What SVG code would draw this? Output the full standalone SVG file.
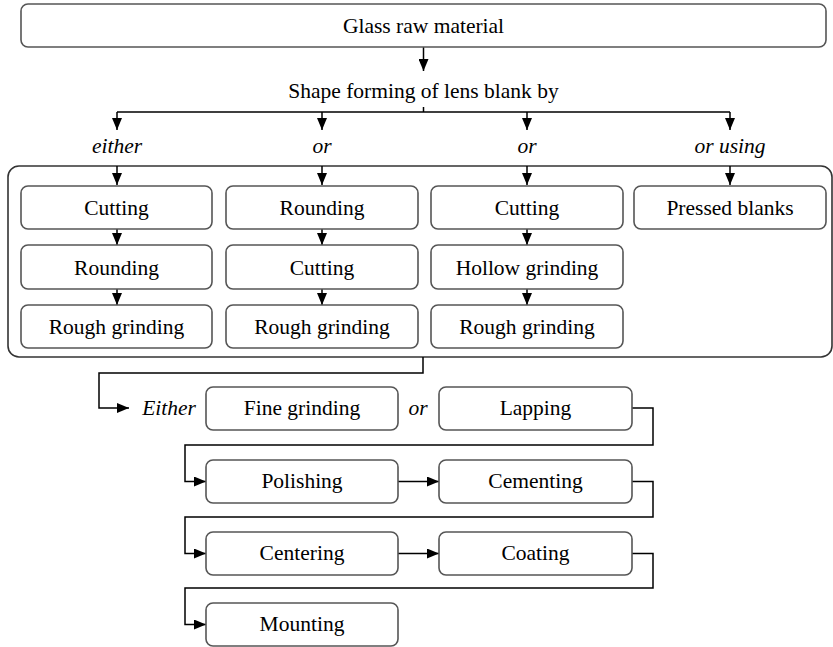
<svg xmlns="http://www.w3.org/2000/svg" width="833" height="647" viewBox="0 0 833 647">
<defs>
<marker id="ah" markerUnits="userSpaceOnUse" markerWidth="12" markerHeight="10" refX="12" refY="5" orient="auto" viewBox="0 0 12 10">
<path d="M0,0 L12,5 L0,10 z" fill="#000"/>
</marker>
<style>
.box{fill:#fff;stroke:#555;stroke-width:1.6}
.big{fill:none;stroke:#333;stroke-width:1.6}
.t{font-family:"Liberation Serif","DejaVu Serif",serif;font-size:21.5px;fill:#000;text-anchor:middle}
.i{font-style:italic}
.c{fill:none;stroke:#000;stroke-width:1.5}
.a{marker-end:url(#ah)}
</style>
</defs>
<rect class="big" x="8" y="166" width="824" height="191" rx="11"/>
<g id="connectors">
<path class="c a" d="M423.5,47 V71"/>
<path class="c" d="M423.5,107 V112 M117,112 H730"/>
<path class="c a" d="M117,112 V130"/>
<path class="c a" d="M322,112 V130"/>
<path class="c a" d="M527,112 V130"/>
<path class="c a" d="M730,112 V130"/>
<path class="c a" d="M117,166 V185"/>
<path class="c a" d="M322,166 V185"/>
<path class="c a" d="M527,166 V185"/>
<path class="c a" d="M730,166 V185"/>
<path class="c a" d="M117,229 V245"/>
<path class="c a" d="M322,229 V245"/>
<path class="c a" d="M527,229 V245"/>
<path class="c a" d="M117,289 V305"/>
<path class="c a" d="M322,289 V305"/>
<path class="c a" d="M527,289 V305"/>
<path class="c a" d="M423,357 V373 H99 V408 H129"/>
<path class="c a" d="M632,408 H653 V445 H185 V481.5 H206"/>
<path class="c a" d="M398,481.5 H439"/>
<path class="c a" d="M632,481.5 H653 V517 H185 V553.5 H206"/>
<path class="c a" d="M398,553.5 H439"/>
<path class="c a" d="M632,553.5 H653 V588 H185 V624.5 H206"/>
</g>
<g id="glass"><rect class="box" x="21" y="4" width="805" height="43" rx="7"/><text class="t" x="423.5" y="33">Glass raw material</text></g>
<g id="shape"><text class="t" x="423.5" y="98">Shape forming of lens blank by</text></g>
<g id="lbl-either"><text class="t i" x="117" y="153">either</text></g>
<g id="lbl-or1"><text class="t i" x="322" y="153">or</text></g>
<g id="lbl-or2"><text class="t i" x="527" y="153">or</text></g>
<g id="lbl-orusing"><text class="t i" x="730" y="153">or using</text></g>
<g id="c1r1"><rect class="box" x="21" y="186" width="191" height="43" rx="7"/><text class="t" x="116.5" y="215">Cutting</text></g>
<g id="c2r1"><rect class="box" x="226" y="186" width="192" height="43" rx="7"/><text class="t" x="322" y="215">Rounding</text></g>
<g id="c3r1"><rect class="box" x="431" y="186" width="192" height="43" rx="7"/><text class="t" x="527" y="215">Cutting</text></g>
<g id="c4r1"><rect class="box" x="634" y="186" width="192" height="43" rx="7"/><text class="t" x="730" y="215">Pressed blanks</text></g>
<g id="c1r2"><rect class="box" x="21" y="245" width="191" height="44" rx="7"/><text class="t" x="116.5" y="274.5">Rounding</text></g>
<g id="c2r2"><rect class="box" x="226" y="245" width="192" height="44" rx="7"/><text class="t" x="322" y="274.5">Cutting</text></g>
<g id="c3r2"><rect class="box" x="431" y="245" width="192" height="44" rx="7"/><text class="t" x="527" y="274.5">Hollow grinding</text></g>
<g id="c1r3"><rect class="box" x="21" y="305" width="191" height="43" rx="7"/><text class="t" x="116.5" y="334">Rough grinding</text></g>
<g id="c2r3"><rect class="box" x="226" y="305" width="192" height="43" rx="7"/><text class="t" x="322" y="334">Rough grinding</text></g>
<g id="c3r3"><rect class="box" x="431" y="305" width="192" height="43" rx="7"/><text class="t" x="527" y="334">Rough grinding</text></g>
<g id="lbl-Either"><text class="t i" x="169" y="415">Either</text></g>
<g id="fine"><rect class="box" x="206" y="387" width="192" height="43" rx="7"/><text class="t" x="302" y="415">Fine grinding</text></g>
<g id="lbl-or3"><text class="t i" x="418" y="415">or</text></g>
<g id="lapping"><rect class="box" x="439" y="387" width="193" height="43" rx="7"/><text class="t" x="535.5" y="415">Lapping</text></g>
<g id="polishing"><rect class="box" x="206" y="460" width="192" height="43" rx="7"/><text class="t" x="302" y="488">Polishing</text></g>
<g id="cementing"><rect class="box" x="439" y="460" width="193" height="43" rx="7"/><text class="t" x="535.5" y="488">Cementing</text></g>
<g id="centering"><rect class="box" x="206" y="532" width="192" height="43" rx="7"/><text class="t" x="302" y="560">Centering</text></g>
<g id="coating"><rect class="box" x="439" y="532" width="193" height="43" rx="7"/><text class="t" x="535.5" y="560">Coating</text></g>
<g id="mounting"><rect class="box" x="206" y="603" width="192" height="43" rx="7"/><text class="t" x="302" y="631">Mounting</text></g>
</svg>
